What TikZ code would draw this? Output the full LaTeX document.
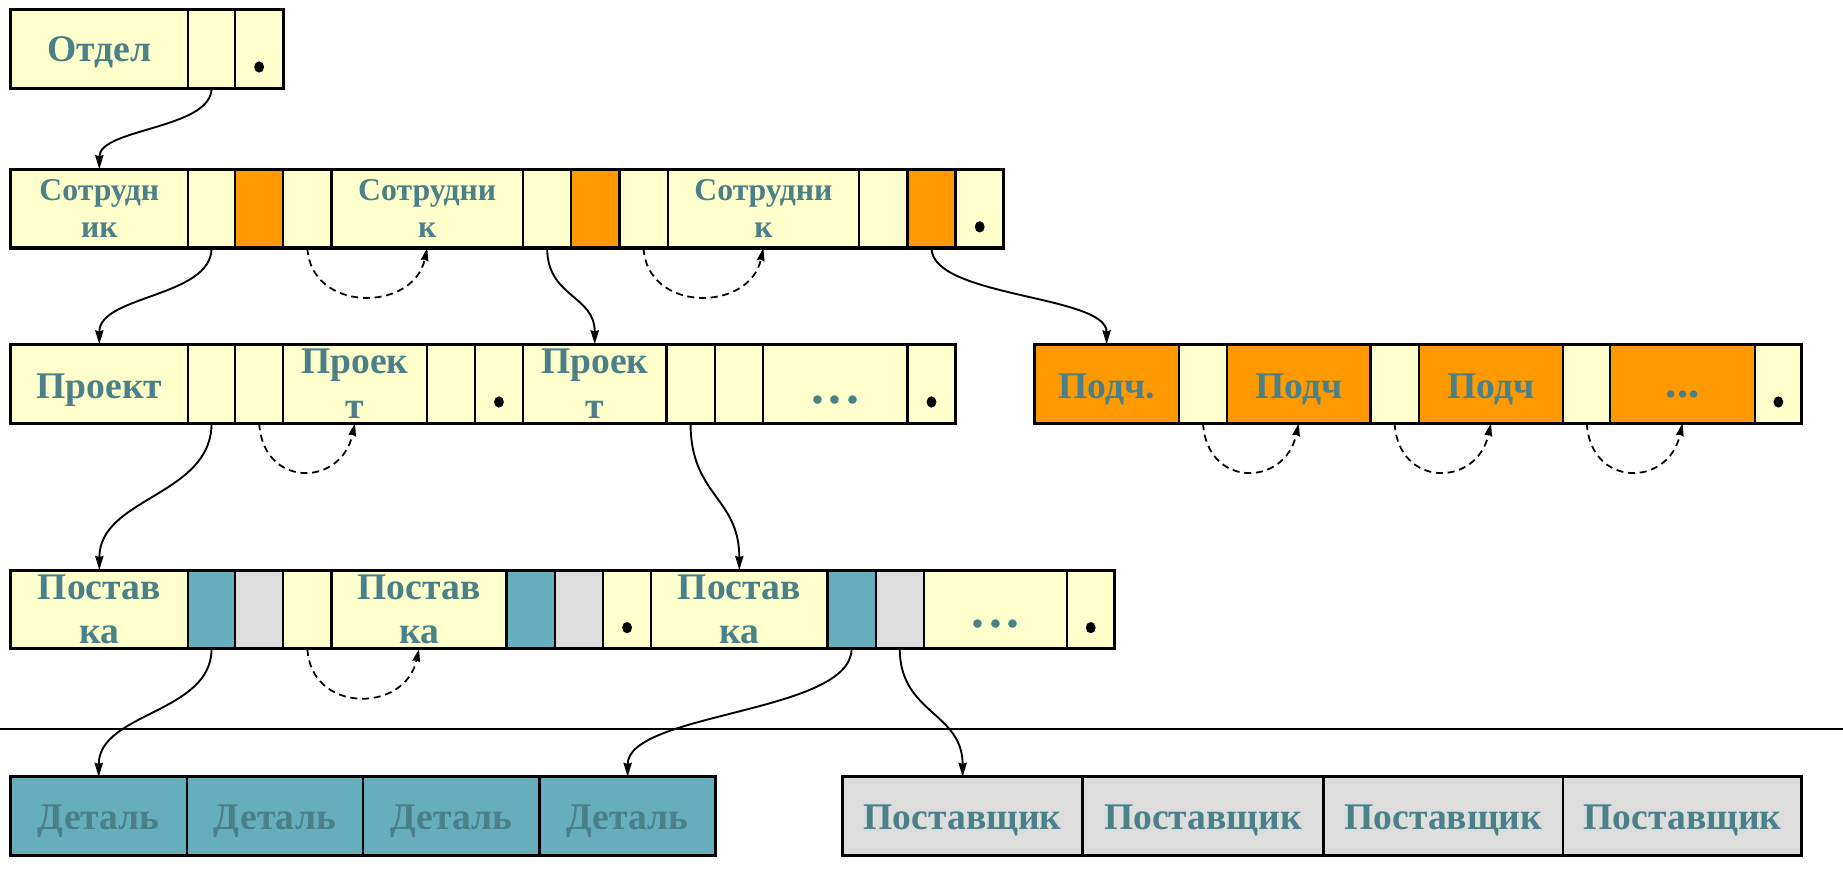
\documentclass[tikz,border=0pt]{standalone}
\usepackage{fontspec}
\setmainfont{Liberation Serif}
\usetikzlibrary{arrows.meta,calc}

\definecolor{cellyellow}{HTML}{FFFFCC}
\definecolor{cellorange}{HTML}{FF9900}
\definecolor{cellteal}{HTML}{66AEBC}
\definecolor{cellgray}{HTML}{DDDDDD}
\definecolor{labelteal}{HTML}{4A8088}

\tikzset{
  cellbox/.style={draw=black, line width=1.9pt, inner sep=0pt, outer sep=0pt,
    minimum height=67pt, text=labelteal,
    font=\bfseries\fontsize{32}{38}\selectfont},
  bl/.style={text height=#1, text depth=0pt},
  twoline/.style={align=center},
  smalltwo/.style={align=center, font=\bfseries\fontsize{27}{32}\selectfont},
  dots/.style={font=\bfseries\fontsize{44}{44}\selectfont},
  smalldots/.style={font=\bfseries\fontsize{38}{38}\selectfont},
  rowframe/.style={draw=black, line width=2.6pt},
  conn/.style={line width=1.6pt, -{Stealth[length=12pt,width=7pt,inset=1pt]}},
  hop/.style={line width=1.5pt, dash pattern=on 6pt off 4pt,
    -{Stealth[length=11pt,width=6.5pt,inset=1pt]}},
}

% one cell of a record: [options]{name}{left}{right}{fill}{text}
\newcommand{\mkcell}[6][]{\node[cellbox, fill=#5, minimum width={(#4-#3)*1pt}, #1] (#2) at ({(#3+#4)/2},\ry) {#6};}
% end-of-chain marker in a cell
\newcommand{\mkdot}[1]{\fill ($(#1.south)+(0,-18)$) ellipse [x radius=4.2pt, y radius=4.8pt];}
% dashed hop from a pointer cell to the next record
\newcommand{\mkhop}[2]{\draw[hop] (#1.south) .. controls +(3,55) and +(-12,55) .. (#2.south);}
% solid link from a pointer cell down to a record
\newcommand{\mklink}[3]{\draw[conn] (#1.south) .. controls +(0,#3) and +(0,-#3) .. (#2.north);}

\begin{document}
\begin{tikzpicture}[x=1pt, y=-1pt]
\useasboundingbox (0,0) rectangle (1568,754);

% ---- department
\def\ry{41.5}
\mkcell[bl=22pt]{o0}{9}{160}{cellyellow}{Отдел}
\mkcell{o1}{160}{200}{cellyellow}{}
\mkcell{o2}{200}{241}{cellyellow}{}
\draw[rowframe] (o0.north west) rectangle (o2.south east);
\mkdot{o2}

% ---- employees
\def\ry{177.5}
\mkcell[smalltwo]{s1}{9}{160}{cellyellow}{Сотрудн\\ик}
\mkcell{s1a}{160}{200}{cellyellow}{}
\mkcell{s1b}{200}{241}{cellorange}{}
\mkcell{s1c}{241}{282}{cellyellow}{}
\mkcell[smalltwo]{s2}{282}{445}{cellyellow}{Сотрудни\\к}
\mkcell{s2a}{445}{486}{cellyellow}{}
\mkcell{s2b}{486}{527}{cellorange}{}
\mkcell{s2c}{527}{568}{cellyellow}{}
\mkcell[smalltwo]{s3}{568}{731}{cellyellow}{Сотрудни\\к}
\mkcell{s3a}{731}{772}{cellyellow}{}
\mkcell{s3b}{772}{813}{cellorange}{}
\mkcell{s3e}{813}{854}{cellyellow}{}
\draw[rowframe] (s1.north west) rectangle (s3e.south east);
\mkdot{s3e}

% ---- projects
\def\ry{326.5}
\mkcell[bl=25pt]{p1}{9}{160}{cellyellow}{Проект}
\mkcell{p1a}{160}{200}{cellyellow}{}
\mkcell{p1b}{200}{241}{cellyellow}{}
\mkcell[twoline]{p2}{241}{363}{cellyellow}{Проек\\т}
\mkcell{p2a}{363}{404}{cellyellow}{}
\mkcell{p2e}{404}{445}{cellyellow}{}
\mkcell[twoline]{p3}{445}{567}{cellyellow}{Проек\\т}
\mkcell{p3a}{567}{608}{cellyellow}{}
\mkcell{p3b}{608}{649}{cellyellow}{}
\mkcell[dots, bl=33pt]{p4}{649}{772}{cellyellow}{.\kern4pt.\kern4pt.}
\mkcell{p4e}{772}{813}{cellyellow}{}
\draw[rowframe] (p1.north west) rectangle (p4e.south east);
\mkdot{p2e}
\mkdot{p4e}

% ---- subordinates
\mkcell[bl=25pt]{q1}{880}{1003}{cellorange}{Подч.}
\mkcell{q1a}{1003}{1044}{cellyellow}{}
\mkcell[bl=25pt]{q2}{1044}{1166}{cellorange}{Подч}
\mkcell{q2a}{1166}{1207}{cellyellow}{}
\mkcell[bl=25pt]{q3}{1207}{1330}{cellorange}{Подч}
\mkcell{q3a}{1330}{1370}{cellyellow}{}
\mkcell[smalldots, bl=24pt]{q4}{1370}{1493}{cellorange}{...}
\mkcell{q4e}{1493}{1533}{cellyellow}{}
\draw[rowframe] (q1.north west) rectangle (q4e.south east);
\mkdot{q4e}

% ---- supplies
\def\ry{518.5}
\mkcell[twoline]{r1}{9}{160}{cellyellow}{Постав\\ка}
\mkcell{r1a}{160}{200}{cellteal}{}
\mkcell{r1b}{200}{241}{cellgray}{}
\mkcell{r1c}{241}{282}{cellyellow}{}
\mkcell[twoline]{r2}{282}{431}{cellyellow}{Постав\\ка}
\mkcell{r2a}{431}{472}{cellteal}{}
\mkcell{r2b}{472}{513}{cellgray}{}
\mkcell{r2e}{513}{554}{cellyellow}{}
\mkcell[twoline]{r3}{554}{704}{cellyellow}{Постав\\ка}
\mkcell{r3a}{704}{745}{cellteal}{}
\mkcell{r3b}{745}{786}{cellgray}{}
\mkcell[dots, bl=31pt]{r4}{786}{908}{cellyellow}{.\kern4pt.\kern4pt.}
\mkcell{r4e}{908}{948}{cellyellow}{}
\draw[rowframe] (r1.north west) rectangle (r4e.south east);
\mkdot{r2e}
\mkdot{r4e}

% ---- separator
\draw[line width=1.9pt] (0,620) -- (1568,620);

% ---- parts and suppliers
\def\ry{694.5}
\mkcell[bl=23pt]{d1}{9}{159}{cellteal}{Деталь}
\mkcell[bl=23pt]{d2}{159}{309}{cellteal}{Деталь}
\mkcell[bl=23pt]{d3}{309}{459}{cellteal}{Деталь}
\mkcell[bl=23pt]{d4}{459}{609}{cellteal}{Деталь}
\draw[rowframe] (d1.north west) rectangle (d4.south east);
\mkcell[bl=23pt]{v1}{717}{921}{cellgray}{Поставщик}
\mkcell[bl=23pt]{v2}{921}{1126}{cellgray}{Поставщик}
\mkcell[bl=23pt]{v3}{1126}{1330}{cellgray}{Поставщик}
\mkcell[bl=23pt]{v4}{1330}{1533}{cellgray}{Поставщик}
\draw[rowframe] (v1.north west) rectangle (v4.south east);

% ---- links between levels
\mklink{o1}{s1}{35}
\mklink{s1a}{p1}{42}
\mklink{s2a}{p3}{42}
\mklink{s3b}{q1}{42}
\mklink{p1a}{r1}{62}
\mklink{p3a}{r3}{62}
\mklink{r1a}{d1}{55}
\mklink{r3a}{d4}{55}
\mklink{r3b}{v1}{55}

% ---- next-record hops
\mkhop{s1c}{s2}
\mkhop{s2c}{s3}
\mkhop{p1b}{p2}
\mkhop{q1a}{q2}
\mkhop{q2a}{q3}
\mkhop{q3a}{q4}
\mkhop{r1c}{r2}
\end{tikzpicture}
\end{document}
